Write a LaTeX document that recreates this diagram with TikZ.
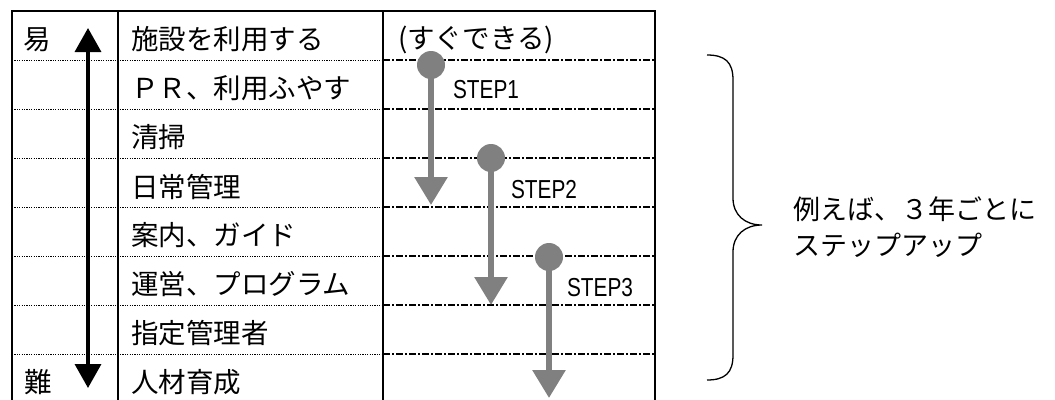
\documentclass[tikz,border=0pt]{standalone}
\usepackage{fontspec}
\setmainfont{Noto Sans CJK JP}
\newfontfamily\stepfont[FakeStretch=0.8]{Liberation Sans}
\usetikzlibrary{arrows.meta}
\definecolor{stepgray}{RGB}{128,128,128}
\tikzset{
  cell/.style={anchor=west, inner sep=0pt, font=\fontsize{27.5}{30}\selectfont},
  steplabel/.style={inner sep=0pt, font=\stepfont\fontsize{26}{30}\selectfont},
  frame/.style={line width=1.6pt},
  rowdot/.style={line width=0.8pt, dash pattern=on 1.2pt off 1.2pt},
  rowdash/.style={line width=1.1pt, dash pattern=on 7pt off 2pt on 2pt off 2pt},
  stepdot/.style={circle, fill=stepgray, minimum size=28pt, inner sep=0pt},
  steparrow/.style={stepgray, line width=6pt, -{Triangle[width=32pt,length=28pt]}},
  levelarrow/.style={line width=3.5pt, {Triangle[width=26pt,length=24pt]}-{Triangle[width=26pt,length=24pt]}}
}
\begin{document}
\begin{tikzpicture}[x=1pt, y=-1pt]
    \useasboundingbox (0,0) rectangle (1055,399);
    \def\r{49}
    % table frame
    \draw[frame] (12,420) -- (12,11) -- (655,11) -- (655,420);
    \draw[frame] (118,11) -- (118,420);
    \draw[frame] (383,11) -- (383,420);
    % row lines
    \draw[rowdot] (12,11+1*\r) -- (383,11+1*\r);
    \draw[rowdot] (12,11+2*\r) -- (383,11+2*\r);
    \draw[rowdot] (12,11+3*\r) -- (383,11+3*\r);
    \draw[rowdot] (12,11+4*\r) -- (383,11+4*\r);
    \draw[rowdot] (12,11+5*\r) -- (383,11+5*\r);
    \draw[rowdot] (12,11+6*\r) -- (383,11+6*\r);
    \draw[rowdot] (12,11+7*\r) -- (383,11+7*\r);
    \draw[rowdash] (383,11+1*\r) -- (655,11+1*\r);
    \draw[rowdash] (383,11+2*\r) -- (655,11+2*\r);
    \draw[rowdash] (383,11+3*\r) -- (655,11+3*\r);
    \draw[rowdash] (383,11+4*\r) -- (655,11+4*\r);
    \draw[rowdash] (383,11+5*\r) -- (655,11+5*\r);
    \draw[rowdash] (383,11+6*\r) -- (655,11+6*\r);
    \draw[rowdash] (383,11+7*\r) -- (655,11+7*\r);
    % easy / hard
    \node[cell, anchor=center] (easy) at (37, 39.5) {易};
    \node[cell, anchor=center] (hard) at (38, 39.5+7*\r) {難};
    \coordinate (lv_top) at (88, 28);
    \coordinate (lv_bot) at (88, 388);
    \draw[levelarrow] (lv_top) -- (lv_bot);
    % items
    \node[cell] (it0) at (131, 39.5+0*\r) {施設を利用する};
    \node[cell] (it1) at (131, 39.5+1*\r) {ＰＲ、利用ふやす};
    \node[cell] (it2) at (131, 39.5+2*\r) {清掃};
    \node[cell] (it3) at (131, 39.5+3*\r) {日常管理};
    \node[cell] (it4) at (131, 39.5+4*\r) {案内、ガイド};
    \node[cell] (it5) at (131, 39.5+5*\r) {運営、プログラム};
    \node[cell] (it6) at (131, 39.5+6*\r) {指定管理者};
    \node[cell] (it7) at (131, 39.5+7*\r) {人材育成};
    \node[cell] (now) at (398, 39.5) {(すぐできる)};
    % steps
    \node[stepdot] (s1) at (431, 65) {};
    \coordinate (e1) at (431, 205);
    \draw[steparrow] (s1.center) -- (e1);
    \node[steplabel] (l1) at (486, 90) {STEP1};
    \node[stepdot] (s2) at (491, 158) {};
    \coordinate (e2) at (491, 305);
    \draw[steparrow] (s2.center) -- (e2);
    \node[steplabel] (l2) at (544, 190) {STEP2};
    \node[stepdot] (s3) at (549, 257) {};
    \coordinate (e3) at (549, 398);
    \draw[steparrow] (s3.center) -- (e3);
    \node[steplabel] (l3) at (600, 288) {STEP3};
    % brace
    \draw[line width=1.3pt] (707,55) .. controls (725,55) and (733,62) .. (733,80)
      -- (733,198) .. controls (733,215) and (745,225) .. (762,225)
      .. controls (745,225) and (733,235) .. (733,252)
      -- (733,355) .. controls (733,373) and (725,380) .. (707,380);
    \node[cell, align=left, font=\fontsize{27}{36}\selectfont] (note) at (793, 227) {例えば、３年ごとに\\ステップアップ};
\end{tikzpicture}
\end{document}
